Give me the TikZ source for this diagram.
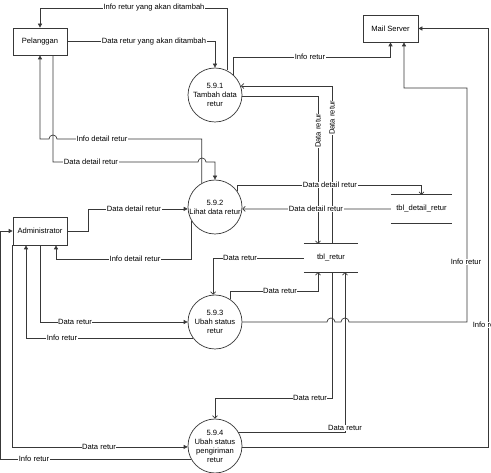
\documentclass[tikz,border=0pt]{standalone}
\usepackage{fontspec}
\setmainfont{Liberation Sans}
\usetikzlibrary{arrows.meta}
\begin{document}
\begin{tikzpicture}[x=1pt,y=-1pt,
  fnt/.style={font=\fontsize{7.6}{9}\selectfont},
  ln/.style={draw=black!78, line width=0.7pt},
  af/.style={ln, -{Triangle[length=4pt,width=4pt]}},
  ao/.style={ln, -{Straight Barb[length=2.5pt,width=5pt]}},
  ent/.style={fnt, draw=black!78, line width=0.7pt, minimum width=54pt, minimum height=27pt, inner sep=0pt},
  proc/.style={fnt, circle, draw=black!78, line width=0.7pt, minimum size=54pt, inner sep=-2pt, align=center},
  store/.style={fnt, minimum height=28pt, inner sep=0pt},
  lbl/.style={fnt, fill=white, inner sep=0.6pt},
]
\useasboundingbox (0,0) rectangle (491,473);
\fill[white] (0,0) rectangle (491,473);

% entities
\node[ent] (pel) at (40,41.5) {Pelanggan};
\node[ent, minimum width=55pt] (mail) at (390.5,28.5) {Mail Server};
\node[ent, minimum height=28pt] (adm) at (40,231) {Administrator};

% processes
\node[proc] (p1) at (215,95) {5.9.1\\Tambah data\\retur};
\node[proc] (p2) at (215,207) {5.9.2\\Lihat data retur};
\node[proc] (p3) at (215,322) {5.9.3\\Ubah status\\retur};
\node[proc] (p4) at (215,446) {5.9.4\\Ubah status\\pengiriman\\retur};

% stores
\node[store, minimum width=54pt] (tret) at (331,258) {tbl\_retur};
\node[store, minimum width=61pt] (tdet) at (421.5,209) {tbl\_detail\_retur};
\draw[ln] (tret.north west) -- (tret.north east) (tret.south west) -- (tret.south east);
\draw[ln] (tdet.north west) -- (tdet.north east) (tdet.south west) -- (tdet.south east);

% 5.9.1
\draw[af] (p1.64) |- (40,8) -- (pel.north);
\node[lbl] (l1) at (154,8) {Info retur yang akan ditambah};
\draw[af] (pel.east) -| (p1.north);
\node[lbl] (l2) at (154,41.5) {Data retur yang akan ditambah};
\draw[af] (p1.48) |- (mail.south |- 0,57) -- (mail.south);
\node[lbl] (l3) at (310,57) {Info retur};
\draw[ao] (tret.north -| 332,0) |- (p1.19);
\node[lbl, rotate=90] (l4) at (332,118) {Data retur};
\draw[ao] (p1.358) -| (tret.north -| 318,0);
\node[lbl, rotate=90] (l5) at (318,131) {Data retur};

% 5.9.2
\draw[af] (p2.119) |- (57,139) arc[start angle=0,end angle=180,radius=4pt] -- (40,139) -- (pel.south);
\node[lbl] (l6) at (102,139) {Info detail retur};
\draw[af] (pel.south -| 53,0) -- (53,162) -- (198,162) arc[start angle=180,end angle=0,radius=4pt] -| (p2.north);
\node[lbl] (l7) at (91,162) {Data detail retur};
\draw[af] (adm.east) -- (adm.east -| 88,0) |- (p2.184);
\node[lbl] (l8) at (134,209) {Data detail retur};
\draw[af] (p2.212) |- (56,259) -- (adm.south -| 56,0);
\node[lbl] (l9) at (135,259) {Info detail retur};
\draw[ao] (p2.35) |- (tdet.north |- 0,185) -- (tdet.north);
\node[lbl] (l10) at (330,185) {Data detail retur};
\draw[ao] (tdet.west) -- (p2.356);
\node[lbl] (l11) at (316,209) {Data detail retur};

% 5.9.3
\draw[ao] (tret.west) -| (p3.94);
\node[lbl] (l12) at (240,258) {Data retur};
\draw[ao] (p3.56) |- (318,291) -- (tret.south -| 318,0);
\node[lbl] (l13) at (280,291) {Data retur};
\draw[af] (adm.south) |- (p3.west);
\node[lbl] (l14) at (75,322) {Data retur};
\draw[af] (p3.216) -| (adm.south -| 26,0);
\node[lbl] (l15) at (62,338) {Info retur};
\draw[af] (p3.east) -- (327,322) arc[start angle=180,end angle=0,radius=4pt] -- (341,322) arc[start angle=180,end angle=0,radius=4pt] -- (467,322) -- (467,88) -| (mail.south -| 404,0);
\node[lbl] (l16) at (466,262) {Info retur};

% 5.9.4
\draw[ao] (tret.south -| 332,0) |- (215,398) -- (p4.north);
\node[lbl] (l17) at (310,398) {Data retur};
\draw[ao] (p4.31) -| (tret.south -| 345,0);
\node[lbl] (l18) at (345,428) {Data retur};
\draw[af] (adm.south west) |- (p4.182);
\node[lbl] (l19) at (99,447) {Data retur};
\draw[af] (p4.209) -| (0.5,231) -- (adm.west);
\node[lbl] (l20) at (34,459) {Info retur};
\draw[af] (p4.358) -| (mail.east -| 488,0) -- (mail.east);
\node[lbl] (l21) at (488,325) {Info retur};
\end{tikzpicture}
\end{document}
